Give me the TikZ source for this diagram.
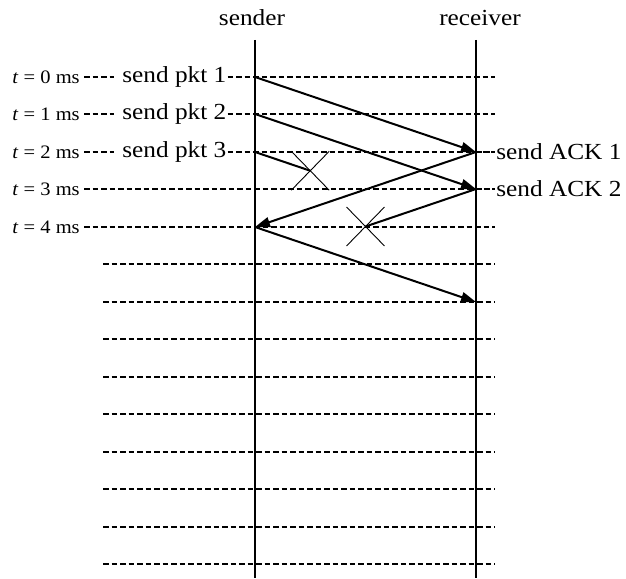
\documentclass[tikz,border=0pt]{standalone}
\usepackage{fontspec}
\setmainfont{Liberation Serif}
\usepackage{tikz}
\usetikzlibrary{arrows.meta,calc,shapes.misc}
\tikzset{
    %Define standard arrow tip
    >={Triangle[length=15pt,width=10pt]},
    %Define style for labels
    big/.style={
           font=\fontsize{23}{25}\selectfont,
           xscale=1.1,
           inner sep=1pt,
           },
    small/.style={
           font=\fontsize{19}{21}\selectfont,
           xscale=1.08,
           inner sep=1pt,
           },
    % Define line styles
    life/.style={line width=2pt},
    dashline/.style={dash pattern=on 5.5pt off 3pt, line width=1.1pt},
    pkt/.style={->, line width=2pt},
    lost/.style={line width=2pt},
    xmark/.style={
           cross out,
           draw, line width=0.9pt,
           minimum width=37pt,
           minimum height=38pt,
           inner sep=0pt,
           },
}
\begin{document}
\begin{tikzpicture}[x=1pt,y=-1pt]
\useasboundingbox (0,0) rectangle (626,578);
\node[big](snd) at (252,18){sender};
\node[big](rcv) at (480,18){receiver};
\coordinate (sTop) at (255,40);
\coordinate (sBot) at (255,578);
\coordinate (rTop) at (476,40);
\coordinate (rBot) at (476,578);
% time rows
\foreach \k [evaluate=\k as \y using int(77+37.5*\k)] in {0,...,13}{
  \coordinate (s\k) at (255,\y);
  \coordinate (r\k) at (476,\y);
  \coordinate (e\k) at (495,\y);
  \coordinate (w\k) at (103,\y);
}
\foreach \k in {0,...,4}
  \node[small, anchor=east](t\k) at (s\k -| 81,0){\textit{t} = \k\ ms};
\foreach \k/\n in {0/1,1/2,2/3}{
  \node[big, anchor=west](p\k) at (s\k -| 121,0){send pkt \n};
  \draw[dashline, shorten <=3pt, shorten >=7pt] (t\k.east) -- (p\k.west);
  \draw[dashline] (p\k.east) -- (e\k);
}
\foreach \k in {3,4}
  \draw[dashline, shorten <=3pt] (t\k.east) -- (e\k);
\foreach \k in {5,...,13}
  \draw[dashline] (w\k) -- (e\k);
\node[big, anchor=west](a1) at (e2){send ACK 1};
\node[big, anchor=west](a2) at (e3){send ACK 2};
\draw[dashline] (r2) -- (a1.west);
\draw[dashline] (r3) -- (a2.west);
% lifelines
\draw[life] (sTop) -- (sBot);
\draw[life] (rTop) -- (rBot);
% messages
\coordinate (x1) at ($(s2)!0.25!(r4)$);
\coordinate (x2) at ($(r3)!0.5!(s5)$);
\draw[pkt] (s0) -- (r2);
\draw[pkt] (s1) -- (r3);
\draw[lost] (s2) -- (x1);
\draw[pkt] (r2) -- (s4);
\draw[lost] (r3) -- (x2);
\draw[pkt] (s4) -- (r6);
\node[xmark](c1) at (x1){};
\node[xmark](c2) at (x2){};
\end{tikzpicture}
\end{document}
